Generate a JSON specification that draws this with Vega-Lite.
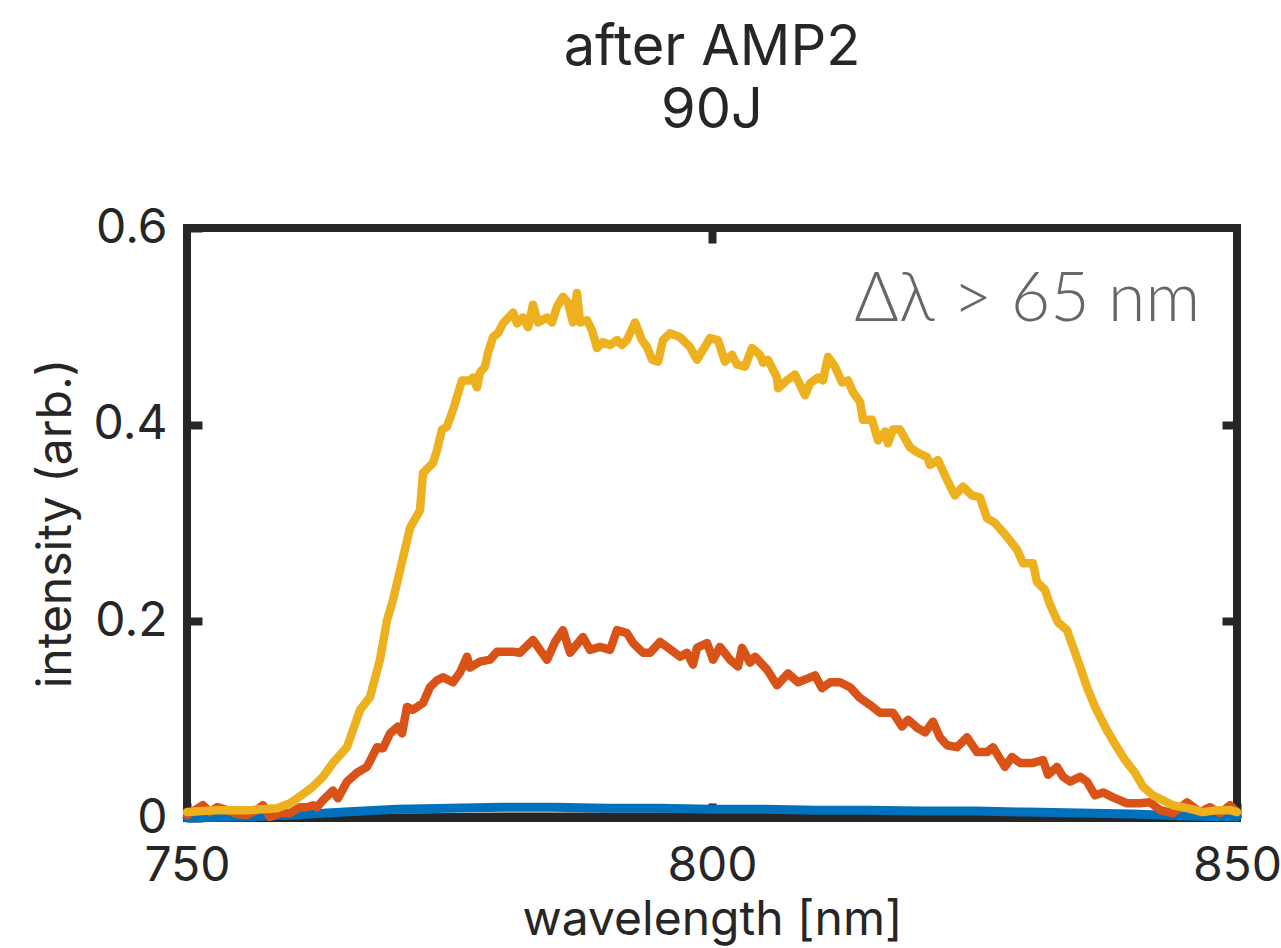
{
  "$schema": "https://vega.github.io/schema/vega-lite/v6.json",
  "width": 1050,
  "height": 590,
  "autosize": {"type": "none"},
  "padding": {"left": 187, "top": 228, "right": 44, "bottom": 130},
  "background": "white",
  "config": {
    "view": {"stroke": "#262626", "strokeWidth": 8},
    "font": "Inter"
  },
  "title": {
    "text": ["after AMP2", "90J"],
    "fontSize": 56,
    "font": "Inter",
    "fontWeight": "normal",
    "color": "#262626",
    "anchor": "middle",
    "offset": 64,
    "lineHeight": 63
  },
  "datasets": {
    "black": [
      {"wl": 750, "v": 0.0}, {"wl": 760, "v": 0.0005}, {"wl": 770, "v": 0.001}, {"wl": 780, "v": 0.002},
      {"wl": 800, "v": 0.002}, {"wl": 820, "v": 0.0015}, {"wl": 840, "v": 0.001}, {"wl": 850, "v": 0.0}
    ],
    "blue": [
      {"wl": 750, "v": 0.0}, {"wl": 755, "v": 0.001}, {"wl": 760, "v": 0.003}, {"wl": 765, "v": 0.006},
      {"wl": 770, "v": 0.009}, {"wl": 775, "v": 0.010}, {"wl": 780, "v": 0.011}, {"wl": 785, "v": 0.011},
      {"wl": 790, "v": 0.010}, {"wl": 795, "v": 0.010}, {"wl": 800, "v": 0.009}, {"wl": 805, "v": 0.009},
      {"wl": 810, "v": 0.008}, {"wl": 815, "v": 0.008}, {"wl": 820, "v": 0.007}, {"wl": 825, "v": 0.007},
      {"wl": 830, "v": 0.006}, {"wl": 835, "v": 0.005}, {"wl": 840, "v": 0.004}, {"wl": 845, "v": 0.002},
      {"wl": 850, "v": 0.001}
    ],
    "orange": [
      {"wl": 750.0, "v": 0.003}, {"wl": 750.76, "v": 0.008}, {"wl": 751.52, "v": 0.013}, {"wl": 752.19, "v": 0.006},
      {"wl": 752.86, "v": 0.011}, {"wl": 753.81, "v": 0.008}, {"wl": 754.76, "v": 0.004}, {"wl": 755.71, "v": 0.003},
      {"wl": 756.48, "v": 0.007}, {"wl": 757.24, "v": 0.013}, {"wl": 757.9, "v": 0.001}, {"wl": 758.86, "v": 0.005},
      {"wl": 759.81, "v": 0.005}, {"wl": 760.76, "v": 0.011}, {"wl": 761.43, "v": 0.011}, {"wl": 762.0, "v": 0.013},
      {"wl": 762.38, "v": 0.011}, {"wl": 762.95, "v": 0.018}, {"wl": 763.9, "v": 0.028}, {"wl": 764.38, "v": 0.020},
      {"wl": 765.24, "v": 0.037}, {"wl": 766.19, "v": 0.046}, {"wl": 767.14, "v": 0.052}, {"wl": 768.1, "v": 0.072},
      {"wl": 768.67, "v": 0.071}, {"wl": 769.33, "v": 0.086}, {"wl": 770.1, "v": 0.093}, {"wl": 770.48, "v": 0.086},
      {"wl": 770.95, "v": 0.113}, {"wl": 771.52, "v": 0.110}, {"wl": 772.48, "v": 0.117}, {"wl": 773.14, "v": 0.133},
      {"wl": 773.81, "v": 0.140}, {"wl": 774.38, "v": 0.143}, {"wl": 775.33, "v": 0.138}, {"wl": 776.0, "v": 0.148},
      {"wl": 776.67, "v": 0.164}, {"wl": 776.95, "v": 0.153}, {"wl": 777.9, "v": 0.159}, {"wl": 778.86, "v": 0.161},
      {"wl": 779.52, "v": 0.169}, {"wl": 781.05, "v": 0.169}, {"wl": 781.71, "v": 0.168}, {"wl": 782.95, "v": 0.181},
      {"wl": 784.29, "v": 0.161}, {"wl": 785.05, "v": 0.179}, {"wl": 785.81, "v": 0.191}, {"wl": 786.48, "v": 0.168},
      {"wl": 787.71, "v": 0.184}, {"wl": 788.38, "v": 0.171}, {"wl": 789.33, "v": 0.174}, {"wl": 790.29, "v": 0.171},
      {"wl": 790.95, "v": 0.191}, {"wl": 791.9, "v": 0.188}, {"wl": 792.48, "v": 0.178}, {"wl": 793.43, "v": 0.168},
      {"wl": 794.1, "v": 0.168}, {"wl": 795.05, "v": 0.179}, {"wl": 795.71, "v": 0.174}, {"wl": 796.95, "v": 0.164},
      {"wl": 797.62, "v": 0.168}, {"wl": 798.19, "v": 0.156}, {"wl": 798.57, "v": 0.173}, {"wl": 799.52, "v": 0.178},
      {"wl": 800.1, "v": 0.161}, {"wl": 800.76, "v": 0.174}, {"wl": 801.71, "v": 0.161}, {"wl": 802.48, "v": 0.154},
      {"wl": 802.86, "v": 0.173}, {"wl": 803.62, "v": 0.158}, {"wl": 804.1, "v": 0.164}, {"wl": 805.24, "v": 0.151},
      {"wl": 806.19, "v": 0.135}, {"wl": 807.24, "v": 0.147}, {"wl": 808.19, "v": 0.138}, {"wl": 809.14, "v": 0.142},
      {"wl": 809.81, "v": 0.145}, {"wl": 810.48, "v": 0.132}, {"wl": 811.24, "v": 0.138}, {"wl": 812.19, "v": 0.138},
      {"wl": 813.14, "v": 0.133}, {"wl": 814.1, "v": 0.122}, {"wl": 815.05, "v": 0.115}, {"wl": 816.0, "v": 0.107},
      {"wl": 817.24, "v": 0.107}, {"wl": 818.1, "v": 0.093}, {"wl": 818.67, "v": 0.100}, {"wl": 819.52, "v": 0.092},
      {"wl": 820.29, "v": 0.087}, {"wl": 821.05, "v": 0.098}, {"wl": 821.71, "v": 0.082}, {"wl": 822.38, "v": 0.074},
      {"wl": 823.33, "v": 0.072}, {"wl": 824.29, "v": 0.082}, {"wl": 825.24, "v": 0.067}, {"wl": 826.19, "v": 0.067},
      {"wl": 826.76, "v": 0.072}, {"wl": 827.9, "v": 0.052}, {"wl": 828.57, "v": 0.062}, {"wl": 829.33, "v": 0.056},
      {"wl": 830.57, "v": 0.056}, {"wl": 831.52, "v": 0.059}, {"wl": 832.0, "v": 0.044}, {"wl": 832.86, "v": 0.052},
      {"wl": 833.43, "v": 0.042}, {"wl": 834.1, "v": 0.037}, {"wl": 835.05, "v": 0.042}, {"wl": 835.71, "v": 0.037},
      {"wl": 836.48, "v": 0.023}, {"wl": 837.24, "v": 0.026}, {"wl": 838.19, "v": 0.021}, {"wl": 839.52, "v": 0.015},
      {"wl": 840.76, "v": 0.015}, {"wl": 841.71, "v": 0.016}, {"wl": 842.67, "v": 0.008}, {"wl": 843.9, "v": 0.005},
      {"wl": 845.24, "v": 0.016}, {"wl": 846.48, "v": 0.006}, {"wl": 847.43, "v": 0.011}, {"wl": 848.38, "v": 0.005},
      {"wl": 849.33, "v": 0.013}, {"wl": 850.0, "v": 0.006}
    ],
    "yellow": [
      {"wl": 750.0, "v": 0.006}, {"wl": 752.86, "v": 0.008}, {"wl": 756.0, "v": 0.008}, {"wl": 758.57, "v": 0.010},
      {"wl": 759.81, "v": 0.015}, {"wl": 760.76, "v": 0.022}, {"wl": 762.0, "v": 0.032}, {"wl": 762.95, "v": 0.042},
      {"wl": 763.9, "v": 0.056}, {"wl": 765.24, "v": 0.072}, {"wl": 766.48, "v": 0.110}, {"wl": 767.43, "v": 0.123},
      {"wl": 768.38, "v": 0.161}, {"wl": 769.05, "v": 0.201}, {"wl": 769.62, "v": 0.222}, {"wl": 770.29, "v": 0.252},
      {"wl": 771.24, "v": 0.295}, {"wl": 772.19, "v": 0.313}, {"wl": 772.48, "v": 0.351}, {"wl": 773.43, "v": 0.361},
      {"wl": 773.81, "v": 0.374}, {"wl": 774.29, "v": 0.395}, {"wl": 774.76, "v": 0.398}, {"wl": 775.33, "v": 0.415},
      {"wl": 776.19, "v": 0.445}, {"wl": 776.95, "v": 0.445}, {"wl": 777.24, "v": 0.448}, {"wl": 777.62, "v": 0.438},
      {"wl": 777.9, "v": 0.453}, {"wl": 778.38, "v": 0.459}, {"wl": 778.67, "v": 0.473}, {"wl": 779.14, "v": 0.489},
      {"wl": 779.62, "v": 0.493}, {"wl": 780.1, "v": 0.503}, {"wl": 781.05, "v": 0.514}, {"wl": 781.43, "v": 0.503},
      {"wl": 782.0, "v": 0.509}, {"wl": 782.48, "v": 0.499}, {"wl": 782.95, "v": 0.522}, {"wl": 783.43, "v": 0.504},
      {"wl": 784.29, "v": 0.509}, {"wl": 784.76, "v": 0.504}, {"wl": 785.24, "v": 0.520}, {"wl": 785.81, "v": 0.530},
      {"wl": 786.29, "v": 0.524}, {"wl": 786.76, "v": 0.504}, {"wl": 787.14, "v": 0.534}, {"wl": 787.43, "v": 0.504},
      {"wl": 788.1, "v": 0.506}, {"wl": 788.57, "v": 0.496}, {"wl": 789.05, "v": 0.478}, {"wl": 789.62, "v": 0.484},
      {"wl": 790.29, "v": 0.481}, {"wl": 790.95, "v": 0.486}, {"wl": 791.43, "v": 0.481}, {"wl": 791.9, "v": 0.486},
      {"wl": 792.67, "v": 0.504}, {"wl": 793.33, "v": 0.486}, {"wl": 793.81, "v": 0.479}, {"wl": 794.29, "v": 0.466},
      {"wl": 794.86, "v": 0.464}, {"wl": 795.33, "v": 0.486}, {"wl": 796.0, "v": 0.493}, {"wl": 796.95, "v": 0.489},
      {"wl": 797.9, "v": 0.479}, {"wl": 798.57, "v": 0.466}, {"wl": 799.81, "v": 0.488}, {"wl": 800.57, "v": 0.486},
      {"wl": 801.24, "v": 0.464}, {"wl": 801.9, "v": 0.471}, {"wl": 802.38, "v": 0.461}, {"wl": 803.14, "v": 0.459},
      {"wl": 803.81, "v": 0.478}, {"wl": 804.57, "v": 0.471}, {"wl": 804.86, "v": 0.463}, {"wl": 805.33, "v": 0.466},
      {"wl": 806.19, "v": 0.448}, {"wl": 806.29, "v": 0.437}, {"wl": 807.14, "v": 0.445}, {"wl": 807.9, "v": 0.451},
      {"wl": 808.86, "v": 0.430}, {"wl": 809.33, "v": 0.442}, {"wl": 810.1, "v": 0.448}, {"wl": 810.57, "v": 0.445},
      {"wl": 811.05, "v": 0.469}, {"wl": 811.71, "v": 0.459}, {"wl": 812.38, "v": 0.443}, {"wl": 812.95, "v": 0.445},
      {"wl": 813.43, "v": 0.433}, {"wl": 814.1, "v": 0.423}, {"wl": 814.38, "v": 0.405}, {"wl": 815.24, "v": 0.405},
      {"wl": 815.81, "v": 0.384}, {"wl": 816.48, "v": 0.393}, {"wl": 816.76, "v": 0.381}, {"wl": 817.24, "v": 0.395},
      {"wl": 817.9, "v": 0.395}, {"wl": 818.86, "v": 0.377}, {"wl": 819.52, "v": 0.372}, {"wl": 820.48, "v": 0.367},
      {"wl": 820.76, "v": 0.359}, {"wl": 821.52, "v": 0.364}, {"wl": 822.38, "v": 0.344}, {"wl": 823.14, "v": 0.328},
      {"wl": 823.9, "v": 0.337}, {"wl": 824.76, "v": 0.328}, {"wl": 825.52, "v": 0.326}, {"wl": 826.19, "v": 0.305},
      {"wl": 826.95, "v": 0.300}, {"wl": 828.1, "v": 0.286}, {"wl": 829.05, "v": 0.273}, {"wl": 829.62, "v": 0.259},
      {"wl": 830.57, "v": 0.259}, {"wl": 830.95, "v": 0.240}, {"wl": 831.71, "v": 0.232}, {"wl": 832.19, "v": 0.217},
      {"wl": 832.95, "v": 0.199}, {"wl": 833.81, "v": 0.191}, {"wl": 834.38, "v": 0.174}, {"wl": 835.05, "v": 0.154},
      {"wl": 835.71, "v": 0.133}, {"wl": 836.48, "v": 0.113}, {"wl": 837.62, "v": 0.089}, {"wl": 838.57, "v": 0.072},
      {"wl": 839.33, "v": 0.059}, {"wl": 840.29, "v": 0.046}, {"wl": 841.05, "v": 0.032}, {"wl": 842.0, "v": 0.023},
      {"wl": 842.95, "v": 0.018}, {"wl": 843.9, "v": 0.013}, {"wl": 845.24, "v": 0.010}, {"wl": 846.76, "v": 0.006},
      {"wl": 848.1, "v": 0.008}, {"wl": 849.33, "v": 0.008}, {"wl": 850.0, "v": 0.006}
    ],
    "note": [{"wl": 846.5, "v": 0.505, "label": "Δλ > 65 nm"}]
  },
  "resolve": {"axis": {"x": "independent", "y": "independent"}},
  "layer": [
    {
      "data": {"name": "black"},
      "mark": {"type": "line", "color": "#262626", "strokeWidth": 7, "strokeJoin": "round", "strokeCap": "round"},
      "encoding": {
        "x": {
          "field": "wl", "type": "quantitative",
          "scale": {"domain": [750, 850], "nice": false, "zero": false},
          "axis": {
            "orient": "bottom", "values": [750, 800, 850], "title": "wavelength [nm]",
            "domain": false, "grid": false, "ticks": true, "tickSize": -15, "tickWidth": 8, "tickColor": "#262626",
            "labelFont": "Inter", "labelFontSize": 48, "labelColor": "#262626", "labelPadding": 39,
            "labelFlush": false, "labelOverlap": false,
            "titleFont": "Inter", "titleFontSize": 48, "titleFontWeight": "normal", "titleColor": "#262626", "titlePadding": 6
          }
        },
        "y": {
          "field": "v", "type": "quantitative",
          "scale": {"domain": [0, 0.6], "nice": false},
          "axis": {
            "orient": "left", "values": [0, 0.2, 0.4, 0.6], "format": "~g", "title": "intensity (arb.)",
            "domain": false, "grid": false, "ticks": true, "tickSize": -15, "tickWidth": 8, "tickColor": "#262626",
            "labelFont": "Inter", "labelFontSize": 48, "labelColor": "#262626", "labelPadding": 35,
            "labelFlush": false, "labelOverlap": false,
            "titleFont": "Inter", "titleFontSize": 48, "titleFontWeight": "normal", "titleColor": "#262626", "titlePadding": 13
          }
        }
      }
    },
    {
      "data": {"name": "blue"},
      "mark": {"type": "line", "color": "#0072BD", "strokeWidth": 9, "strokeJoin": "round", "strokeCap": "round"},
      "encoding": {
        "x": {"field": "wl", "type": "quantitative", "axis": null},
        "y": {"field": "v", "type": "quantitative", "axis": null}
      }
    },
    {
      "data": {"name": "orange"},
      "mark": {"type": "line", "color": "#D95319", "strokeWidth": 8.5, "strokeJoin": "round", "strokeCap": "round"},
      "encoding": {
        "x": {"field": "wl", "type": "quantitative", "axis": null},
        "y": {"field": "v", "type": "quantitative", "axis": null}
      }
    },
    {
      "data": {"name": "yellow"},
      "mark": {"type": "line", "color": "#EDB120", "strokeWidth": 8.5, "strokeJoin": "round", "strokeCap": "round"},
      "encoding": {
        "x": {"field": "wl", "type": "quantitative", "axis": null},
        "y": {"field": "v", "type": "quantitative", "axis": null}
      }
    },
    {
      "data": {"name": "note"},
      "mark": {"type": "text", "align": "right", "baseline": "alphabetic", "font": "Lato", "fontWeight": 300, "fontSize": 68, "color": "#666666"},
      "encoding": {
        "x": {
          "field": "wl", "type": "quantitative",
          "axis": {"orient": "top", "values": [800], "labels": false, "title": null, "domain": false, "grid": false,
                   "ticks": true, "tickSize": -15, "tickWidth": 8, "tickColor": "#262626"}
        },
        "y": {
          "field": "v", "type": "quantitative",
          "axis": {"orient": "right", "values": [0.2, 0.4], "labels": false, "title": null, "domain": false, "grid": false,
                   "ticks": true, "tickSize": -15, "tickWidth": 8, "tickColor": "#262626"}
        },
        "text": {"field": "label"}
      }
    }
  ]
}
